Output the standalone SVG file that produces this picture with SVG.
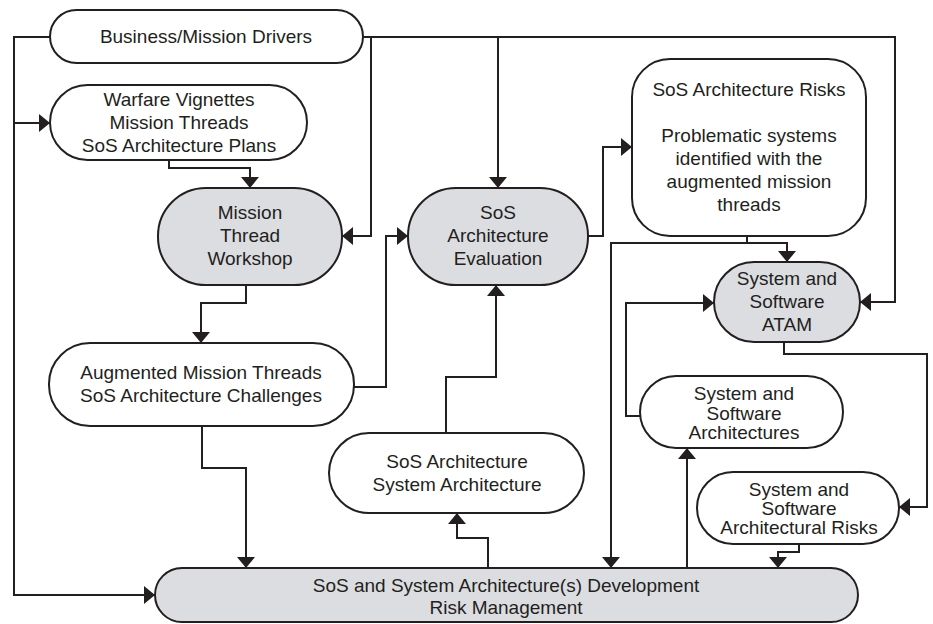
<svg xmlns="http://www.w3.org/2000/svg" width="933" height="624" viewBox="0 0 933 624">
<defs>
<style>
.n{fill:#fff;stroke:#231f20;stroke-width:2}
.g{fill:#dcdde0;stroke:#231f20;stroke-width:2}
.c{fill:none;stroke:#231f20;stroke-width:2;marker-end:url(#ah)}
.p{fill:none;stroke:#231f20;stroke-width:2}
text{font-family:"Liberation Sans",Arial,sans-serif;font-size:19px;fill:#231f20;text-anchor:middle}
</style>
<marker id="ah" viewBox="0 0 11 18" refX="11" refY="9" markerWidth="11" markerHeight="18" markerUnits="userSpaceOnUse" orient="auto">
<path d="M0,0 L11,9 L0,18 z" fill="#231f20"/>
</marker>
</defs>
<rect width="933" height="624" fill="#fff"/>
<g id="connectors">
<path class="c" d="M50,37 H14 V595 H155"/>
<path class="c" d="M14,123 H50"/>
<path class="c" d="M169,160 V168 H250 V188"/>
<path class="c" d="M363,37 H371 V236 H342"/>
<path class="c" d="M371,37 H498 V188"/>
<path class="c" d="M498,37 H895 V302 H860"/>
<path class="c" d="M246,285 V303 H201 V343"/>
<path class="c" d="M354,387 H386 V236 H408"/>
<path class="c" d="M202,426 V468 H246 V568"/>
<path class="c" d="M588,236 H603 V147 H632"/>
<path class="c" d="M747,236 V243 H787 V262"/>
<path class="c" d="M747,243 H611 V568"/>
<path class="c" d="M640,416 H626 V303 H714"/>
<path class="c" d="M784,342 V354 H927 V507 H899"/>
<path class="c" d="M799,544 V552 H778 V568"/>
<path class="c" d="M687,568 V448"/>
<path class="c" d="M488,568 V538 H457 V513"/>
<path class="c" d="M446,433 V377 H496 V285"/>
</g>
<g id="business">
<rect class="n" x="50" y="10" width="313" height="53" rx="26.5"/>
<text x="206" y="43">Business/Mission Drivers</text>
</g>
<g id="warfare">
<rect class="n" x="50" y="85" width="257" height="75" rx="37.5"/>
<text x="179" y="106">Warfare Vignettes</text>
<text x="179" y="129">Mission Threads</text>
<text x="179" y="152">SoS Architecture Plans</text>
</g>
<g id="mtw">
<rect class="g" x="158" y="188" width="184" height="97" rx="48"/>
<text x="250" y="219">Mission</text>
<text x="250" y="242">Thread</text>
<text x="250" y="265">Workshop</text>
</g>
<g id="evaluation">
<rect class="g" x="408" y="188" width="180" height="97" rx="48"/>
<text x="498" y="219">SoS</text>
<text x="498" y="242">Architecture</text>
<text x="498" y="265">Evaluation</text>
</g>
<g id="risks">
<rect class="n" x="632" y="59" width="234" height="177" rx="38"/>
<text x="749" y="96">SoS Architecture Risks</text>
<text x="749" y="142">Problematic systems</text>
<text x="749" y="165">identified with the</text>
<text x="749" y="188">augmented mission</text>
<text x="749" y="211">threads</text>
</g>
<g id="atam">
<rect class="g" x="714" y="262" width="146" height="80" rx="40"/>
<text x="787" y="285">System and</text>
<text x="787" y="308">Software</text>
<text x="787" y="331">ATAM</text>
</g>
<g id="augmented">
<rect class="n" x="49" y="343" width="305" height="83" rx="41"/>
<text x="201" y="379">Augmented Mission Threads</text>
<text x="201" y="402">SoS Architecture Challenges</text>
</g>
<g id="sosarch">
<rect class="n" x="329" y="433" width="255" height="80" rx="40"/>
<text x="457" y="468">SoS Architecture</text>
<text x="457" y="491">System Architecture</text>
</g>
<g id="ssarch">
<rect class="n" x="640" y="376" width="203" height="72" rx="36"/>
<text x="744" y="400">System and</text>
<text x="744" y="420">Software</text>
<text x="744" y="439">Architectures</text>
</g>
<g id="ssrisks">
<rect class="n" x="697" y="472" width="202" height="72" rx="36"/>
<text x="799" y="496">System and</text>
<text x="799" y="515">Software</text>
<text x="799" y="534">Architectural Risks</text>
</g>
<g id="development">
<rect class="g" x="155" y="568" width="703" height="54" rx="27"/>
<text x="506" y="592">SoS and System Architecture(s) Development</text>
<text x="506" y="614">Risk Management</text>
</g>
</svg>
